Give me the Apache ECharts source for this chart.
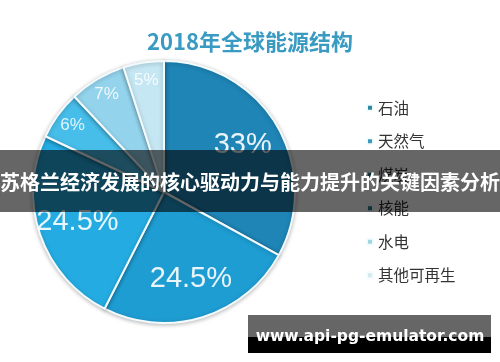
<!DOCTYPE html>
<html>
<head>
<meta charset="utf-8">
<script src="https://cdn.jsdelivr.net/npm/echarts@6/dist/echarts.min.js"></script>
<style>
html,body{margin:0;padding:0;background:#fff;}
#main{width:500px;height:362px;}
</style>
</head>
<body>
<div id="main"></div>
<script>
const categories = ['石油', '天然气', '煤炭', '核能', '水电', '其他可再生'];
const values = [33, 24.5, 24.5, 6, 7, 5];
const labels = ['33%', '24.5%', '24.5%', '6%', '7%', '5%'];
const bigLabelItems = ['石油', '天然气', '煤炭'];

const sliceColors = ['#1e85b6', '#1e9dd3', '#24ace2', '#47bde9', '#93d3ec', '#c4e7f3'];
const legendColors = ['#2a8a9e', '#3a9bbb', '#2c7d8f', '#2a7a86', '#9fd6df', '#d3ebee'];

const chart = echarts.init(document.getElementById('main'));
const CJK = '"Noto Sans CJK SC", sans-serif';

const mainData = categories.map((n, i) => ({
  name: n, value: values[i], itemStyle: { color: sliceColors[i] }
}));
function labelData(isBig) {
  return categories.map((n, i) => {
    const show = bigLabelItems.includes(n) === isBig;
    return {
      name: n, value: values[i],
      label: { show: show, formatter: labels[i] }
    };
  });
}

const center = [164, 192];
chart.setOption({
  backgroundColor: '#fff',
  animation: false,
  title: {
    text: '2018年全球能源结构',
    left: 'center',
    top: 26,
    textStyle: { fontFamily: CJK, fontSize: 22, fontWeight: 'bold', color: '#3a9bc2' }
  },
  legend: {
    orient: 'vertical',
    left: 361,
    top: 95,
    itemWidth: 6,
    itemHeight: 6,
    itemGap: 18,
    icon: 'rect',
    textStyle: { fontFamily: CJK, fontSize: 15.5, color: '#333' },
    data: categories.map((n, i) => ({ name: n, itemStyle: { color: legendColors[i] } }))
  },
  series: [
    {
      type: 'pie',
      center: center,
      radius: [0, 131],
      startAngle: 90,
      clockwise: true,
      label: { show: false },
      labelLine: { show: false },
      itemStyle: {
        borderColor: '#f4fbfe', borderWidth: 2,
        shadowBlur: 4, shadowColor: 'rgba(0,0,0,0.25)', shadowOffsetY: 1
      },
      emphasis: { disabled: true },
      data: mainData
    },
    {
      type: 'pie',
      silent: true,
      center: center,
      radius: [46, 131],
      startAngle: 90,
      clockwise: true,
      itemStyle: { color: 'rgba(0,0,0,0)', borderWidth: 0 },
      label: {
        position: 'inside',
        color: 'rgba(255,255,255,0.9)',
        fontFamily: '"Liberation Sans", Arial, sans-serif',
        fontSize: 29
      },
      labelLine: { show: false },
      emphasis: { disabled: true },
      data: labelData(true)
    },
    {
      type: 'pie',
      silent: true,
      center: center,
      radius: [89, 131],
      startAngle: 90,
      clockwise: true,
      itemStyle: { color: 'rgba(0,0,0,0)', borderWidth: 0 },
      label: {
        position: 'inside',
        color: 'rgba(255,255,255,0.85)',
        fontFamily: '"Liberation Sans", Arial, sans-serif',
        fontSize: 17
      },
      labelLine: { show: false },
      emphasis: { disabled: true },
      data: labelData(false)
    }
  ],
  graphic: [
    {
      type: 'rect', z: 100,
      shape: { x: 0, y: 150, width: 500, height: 62 },
      style: { fill: 'rgba(0,0,0,0.6)' }
    },
    {
      type: 'text', z: 101,
      x: 250, y: 182,
      style: {
        text: '苏格兰经济发展的核心驱动力与能力提升的关键因素分析',
        fill: '#fff', fontFamily: CJK, fontSize: 20, fontWeight: 'bold',
        align: 'center', verticalAlign: 'middle'
      }
    },
    {
      type: 'rect', z: 100,
      shape: { x: 248, y: 315, width: 243, height: 22 },
      style: { fill: '#666' }
    },
    {
      type: 'rect', z: 100,
      shape: { x: 248, y: 337, width: 243, height: 16 },
      style: { fill: '#000' }
    },
    {
      type: 'text', z: 101,
      x: 370, y: 337,
      style: {
        text: 'www.api-pg-emulator.com',
        fill: '#fff', fontFamily: '"DejaVu Sans", sans-serif', fontSize: 15.5, fontWeight: 'bold',
        align: 'center', verticalAlign: 'middle'
      }
    }
  ]
});
</script>
</body>
</html>
